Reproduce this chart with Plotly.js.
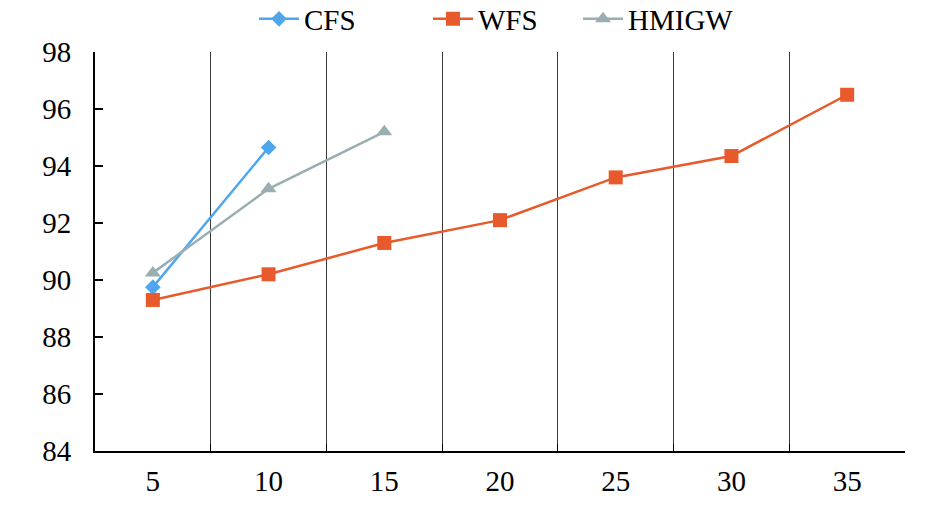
<!DOCTYPE html>
<html>
<head>
<meta charset="utf-8">
<script src="https://cdn.plot.ly/plotly-3.0.1.min.js"></script>
<style>
    html, body { margin: 0; padding: 0; background: #fff; }
    #chart { width: 945px; height: 508px; }
</style>
</head>
<body>
<div id="chart"></div>
<script>
// Chart data
const categories = ["5", "10", "15", "20", "25", "30", "35"];
const cfsValues = [89.75, 94.65];
const wfsValues = [89.3, 90.2, 91.3, 92.1, 93.6, 94.35, 96.5];
const hmigwValues = [90.25, 93.2, 95.2];
const yTicks = [84, 86, 88, 90, 92, 94, 96, 98];

const FONT = '"Liberation Serif", "Times New Roman", serif';

// one small legend per series, so each entry sits where the original had it
function legendAt(left) {
    return {
        orientation: "h",
        xref: "container",
        yref: "container",
        x: left / 945,
        xanchor: "left",
        y: 1 - 19 / 508,
        yanchor: "middle",
        font: { family: FONT, size: 29, color: "#000" },
        itemwidth: 40
    };
}

const traces = [
    {
        name: "CFS",
        legend: "legend",
        x: categories.slice(0, cfsValues.length),
        y: cfsValues,
        type: "scatter",
        mode: "lines+markers",
        line: { color: "#4EA7EC", width: 2.5 },
        marker: { symbol: "diamond", size: 12, color: "#4EA7EC" }
    },
    {
        name: "WFS",
        legend: "legend2",
        x: categories.slice(0, wfsValues.length),
        y: wfsValues,
        type: "scatter",
        mode: "lines+markers",
        line: { color: "#E8592B", width: 2.5 },
        marker: { symbol: "square", size: 14, color: "#E8592B" }
    },
    {
        name: "HMIGW",
        legend: "legend3",
        x: categories.slice(0, hmigwValues.length),
        y: hmigwValues,
        type: "scatter",
        mode: "lines+markers",
        line: { color: "#9AAEB2", width: 2.5 },
        marker: { symbol: "triangle-up", size: 14, color: "#9AAEB2" }
    }
];

const layout = {
    width: 945,
    height: 508,
    margin: { l: 95, r: 40, t: 52, b: 57 },
    paper_bgcolor: "#fff",
    plot_bgcolor: "#fff",
    font: { family: FONT, size: 29, color: "#000" },
    showlegend: true,
    legend: legendAt(254),
    legend2: legendAt(428),
    legend3: legendAt(578),
    xaxis: {
        type: "category",
        categoryorder: "array",
        categoryarray: categories,
        range: [-0.5, categories.length - 0.5],
        tickson: "boundaries",
        ticks: "inside",
        ticklen: 7,
        tickcolor: "#000",
        showgrid: true,
        gridcolor: "#3a3a3a",
        gridwidth: 1,
        showline: true,
        linecolor: "#000",
        linewidth: 2,
        zeroline: false,
        ticklabelstandoff: 3,
        tickfont: { family: FONT, size: 29, color: "#000" },
        fixedrange: true
    },
    yaxis: {
        range: [84, 98],
        tickvals: yTicks,
        ticks: "inside",
        ticklen: 8,
        tickwidth: 2,
        tickcolor: "#000",
        showgrid: false,
        showline: true,
        linecolor: "#000",
        linewidth: 2,
        zeroline: false,
        ticklabelstandoff: 16,
        tickfont: { family: FONT, size: 29, color: "#000" },
        fixedrange: true
    }
};

Plotly.newPlot("chart", traces, layout, { displayModeBar: false, staticPlot: true });
</script>
</body>
</html>
